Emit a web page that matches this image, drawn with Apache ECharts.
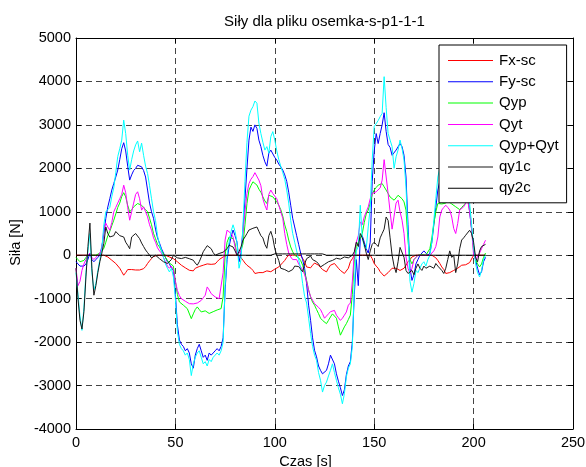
<!DOCTYPE html>
<html><head><meta charset="utf-8">
<script src="https://cdn.jsdelivr.net/npm/echarts@6/dist/echarts.min.js"></script>
<style>html,body{margin:0;padding:0;background:#fff}#c{width:586px;height:467px}</style>
</head><body><div id="c"></div>
<script>
const chartTitle = 'Siły dla pliku osemka-s-p1-1-1';
const xName = 'Czas [s]';
const yName = 'Siła [N]';
const seriesNames = ['Fx-sc', 'Fy-sc', 'Qyp', 'Qyt', 'Qyp+Qyt', 'qy1c', 'qy2c'];
const seriesColors = ['#ff0000', '#0000ff', '#00ff00', '#ff00ff', '#00ffff', '#1a1a1a', '#000000'];
const xTicks = [0, 50, 100, 150, 200, 250];
const yTicks = [-4000, -3000, -2000, -1000, 0, 1000, 2000, 3000, 4000, 5000];
const sampleStep = 1; // seconds between samples, first sample at t = 0

// values in N, one per second (t = 0 ... 206)
const fxSc = [
  0,0,0,0,0,0,0,0,0,0,0,0,0,0,
  0,0,-40,-80,-115,-150,-190,-230,-300,-380,-460,-400,-330,-310,-330,-346,-340,-346,-340,-330,-310,-260,-190,-130,-77,-30,0,0,-10,0,-10,0,
  -20,-40,-60,-80,-115,-150,-190,-230,-260,-290,-320,-346,-385,-360,-300,-270,-260,-240,-230,-220,-200,-190,-210,-230,-200,-150,-100,-77,-40,-20,0,
  0,0,0,0,0,0,0,-115,-180,-230,
  -260,-300,-350,-420,-450,-400,-380,-400,-380,-360,-370,-380,-350,-320,-300,-270,-230,-170,-120,-50,0,0,0,0,0,0,0,-40,-150,-270,
  -300,-290,-230,-180,-190,-230,-280,-330,-370,-384,-300,-230,-190,-190,-230,-300,-350,-380,-420,-380,-300,-150,-80,0,
  0,0,0,0,0,0,0,0,
  -80,-190,-250,-300,-380,-430,-480,-450,-400,-350,-300,-280,-300,-330,-350,-330,-300,-230,-150,-100,
  -40,0,0,0,0,0,0,0,0,0,0,0,-60,-120,-190,-270,-330,-420,-440,-400,-360,-350,-340,-300,-260,-230,-240,-220,-190,-170,-150,0,0,0,0,0,0,0
];
const fySc = [
  -150,-200,-250,-280,-250,-200,-100,50,-100,-150,-100,-50,0,200,
  500,850,1110,1300,1500,1650,1800,1960,2200,2450,2590,2400,2050,1730,1850,1950,2000,2070,2040,2035,1950,1800,1500,1200,1000,850,600,400,280,150,50,-50,
  -150,-200,-300,-350,-900,-1600,-1950,-2050,-2100,-2200,-2150,-2250,-2500,-2600,-2300,-2150,-2050,-2200,-2350,-2300,-2420,-2250,-2300,-2250,-2200,-2150,-2200,-2100,-1900,-800,-100,
  200,420,580,450,300,-150,50,600,1300,2000,
  2650,2950,2850,3000,2920,2650,2500,2300,2150,2050,2350,2420,2380,2250,2190,2100,2035,1960,1850,1700,1450,1150,850,650,450,250,50,-100,-300,-650,
  -1150,-1500,-1900,-2190,-2340,-2550,-2650,-2730,-2750,-2650,-2500,-2300,-2300,-2500,-2730,-2900,-3050,-3230,-3100,-2750,-2550,-2450,-2000,-900,
  -100,-700,400,450,300,150,50,300,
  1700,2400,2800,2570,2800,3000,3280,2850,2550,2480,2300,2345,2420,2460,2570,2500,2300,1800,700,-300,
  -580,-450,-200,-100,0,50,100,50,0,50,300,700,1100,1500,1700,1800,1900,1850,1750,1800,1900,1850,1700,1750,1850,1900,1800,1700,1400,1000,600,200,-100,-300,-450,-380,-150,-50
];
const qyp = [
  -50,-100,-150,-150,-120,-50,0,50,0,-30,0,20,50,100,
  160,300,450,550,680,806,950,1100,1200,1350,1440,1343,1150,1000,1050,1113,1150,1190,1180,1150,1113,1050,1000,850,700,500,380,250,190,100,30,-50,
  -120,-180,-200,-250,-600,-900,-1075,-1110,-1150,-1190,-1230,-1267,-1460,-1350,-1250,-1190,-1250,-1306,-1267,-1280,-1306,-1340,-1382,-1300,-1267,-1260,-1240,-1228,-960,0,300,
  420,420,380,270,0,-30,100,270,700,1190,
  1500,1600,1690,1650,1615,1520,1450,1345,1250,1190,1380,1420,1345,1330,1230,1150,1050,900,700,550,350,190,80,0,-20,-60,-120,-230,-400,-580,
  -800,-960,-1080,-1150,-1250,-1345,-1450,-1500,-1540,-1575,-1500,-1420,-1350,-1306,-1450,-1650,-1840,-1800,-1650,-1575,-1480,-1380,-900,-100,
  200,300,400,500,750,950,1037,1200,
  1400,1500,1560,1613,1640,1650,1575,1500,1420,1340,1300,1267,1320,1380,1344,1300,1228,1037,346,-100,
  -200,-100,-50,0,0,20,0,0,20,150,400,730,1000,1190,1220,1180,1150,1200,1250,1220,1180,1150,1115,1100,1050,1100,1150,1200,1250,1100,600,100,-100,-200,-270,-200,-50,50
];
const qyt = [
  -300,-700,-600,-350,-200,-100,0,50,-50,-100,-50,0,50,150,
  600,737,650,576,750,1000,1100,1200,1300,1400,1612,1440,1100,806,1000,1200,1400,1460,1300,1037,1113,1000,883,700,576,400,300,170,100,50,-50,-150,
  -250,-300,-250,-350,-600,-807,-930,-1000,-1040,-1060,-1080,-1115,-1150,-1120,-1080,-1100,-1060,-1040,-980,-920,-730,-800,-884,-930,-960,-1000,-1000,-980,-400,350,577,
  560,500,420,190,0,-40,100,500,1000,1420,
  1650,1750,1810,1900,1920,1730,1600,1300,1150,1040,1400,1500,1420,1450,1300,1150,1000,850,500,250,50,-40,-100,-115,-100,-200,-270,-330,-450,-600,
  -806,-950,-1037,-1115,-1150,-1200,-1250,-1345,-1450,-1400,-1350,-1300,-1270,-1270,-1380,-1440,-1500,-1450,-1380,-1306,-1150,-1100,-600,50,
  300,450,768,700,883,1000,1113,1300,
  1420,1440,1460,1480,1550,1728,2200,2190,1420,1000,600,900,1200,1267,1000,806,500,-40,-300,-420,
  -300,-100,-50,0,30,0,-30,0,20,0,50,100,200,420,880,1040,1100,1150,1100,1040,880,615,500,730,1040,1080,1115,1150,1270,1000,600,0,-100,-80,50,150,250,345
];
const qypQyt = [
  -400,-900,-1400,-1730,-1200,-400,100,500,-400,-800,-650,-350,-100,150,
  700,1000,1000,1100,1350,1550,1900,2270,2450,2650,3110,2800,2300,1960,2200,2400,2540,2630,2380,2580,2300,2050,1880,1600,1300,1000,800,450,250,100,-50,-200,
  -300,-385,-300,-500,-1000,-1750,-2050,-2150,-2200,-2300,-2250,-2400,-2770,-2500,-2350,-2250,-2200,-2350,-2500,-2450,-2550,-2400,-2450,-2350,-2300,-2250,-2300,-2200,-2000,-700,0,
  300,550,700,550,300,-300,-100,700,1700,2600,
  3200,3340,3420,3550,3500,3040,2800,2600,2420,2500,2350,2730,2845,2650,2400,2200,2050,1900,1750,1500,1200,800,500,300,100,-100,-300,-650,-950,-1100,
  -1450,-1800,-2100,-2300,-2420,-2700,-2880,-3150,-3000,-2920,-2780,-2650,-2500,-2700,-2880,-3050,-3200,-3420,-3190,-2800,-2600,-2500,-2100,-700,
  100,200,1150,400,200,150,650,1100,
  2200,2960,3000,3100,3190,3264,4110,3400,2800,2650,2500,2000,2265,2420,2650,2460,2190,1575,500,-600,
  -850,-650,-350,-400,-300,-200,-150,-250,-100,0,300,800,1300,1800,2000,2100,2200,2150,2050,2100,2200,2150,2000,2050,2150,2200,2100,1900,1600,1200,700,200,-200,-400,-500,-350,-100,0
];
const qy1c = [
  -300,-1000,-1500,-1700,-1300,-500,200,740,-300,-920,-700,-400,-150,50,
  276,652,500,420,390,450,545,500,450,430,420,300,230,150,420,400,500,540,380,280,200,120,60,20,-60,-20,0,-40,-80,-40,-150,-150,
  -190,-190,-100,0,-40,-60,-80,-77,-60,-50,-40,-80,-110,-115,-180,-230,-150,-40,80,150,220,260,150,60,0,20,40,50,70,80,150,
  230,210,190,100,0,80,190,350,420,500,
  580,600,620,640,650,550,450,400,250,160,450,550,400,150,0,-120,-300,-340,-330,-350,-380,-390,-330,-250,-230,-260,-300,-380,-200,-80,
  -50,-20,-100,-120,-150,-200,-270,-240,-210,-190,-150,-115,-120,-90,-70,-77,-90,-60,-40,-50,-60,-30,0,80,
  300,200,500,400,250,50,-100,100,
  250,300,250,200,400,500,600,880,800,400,0,-250,-400,-150,180,150,-50,-350,-420,-380,
  -350,-450,-300,-200,-300,-350,-250,-300,-280,-250,-230,-300,-190,-250,-270,-350,-420,-300,-100,100,-50,0,-400,-200,150,350,400,460,500,575,500,300,-50,-150,100,200,230,250
];
const qy2c = [
  0,0,0,0,0,0,0,0,0,0,0,0,0,0,
  0,0,0,0,0,0,0,0,0,0,0,0,0,0,0,0,0,0,0,0,0,0,0,0,0,0,0,0,0,0,0,0,
  0,0,0,0,0,0,0,0,0,0,0,0,0,0,0,0,0,0,0,0,0,0,0,0,0,0,0,0,0,0,0,
  0,0,0,0,0,0,0,0,0,0,
  0,0,0,0,0,0,0,0,0,0,0,0,0,30,30,30,30,30,30,30,30,30,30,30,30,30,30,30,30,30,
  30,30,30,30,30,30,30,30,30,0,0,0,0,0,0,0,0,0,0,0,0,0,0,0,
  0,0,0,0,0,0,0,0,
  0,0,0,0,0,0,0,0,0,0,0,0,0,0,0,0,0,0,0,0,
  0,0,0,0,0,0,0,0,0,0,0,0,0,0,0,0,0,0,0,0,0,0,0,0,0,0,0,0,0,0,0,0,0,0,0,0,0,0
];

const allValues = [fxSc, fySc, qyp, qyt, qypQyt, qy1c, qy2c];
allValues.forEach((a, i) => { if (a.length !== 207) throw new Error(seriesNames[i] + ' length ' + a.length); });

const FONT = '"Liberation Sans", Arial, Helvetica, sans-serif';
const chart = echarts.init(document.getElementById('c'), null, {renderer: 'canvas'});

const gridL = 76, gridR = 13, gridT = 38, gridB = 38;
const plotCenterX = gridL + (586 - gridL - gridR) / 2;

function axisBase(extra) {
  return Object.assign({
    type: 'value',
    axisLine: {show: true, onZero: false, lineStyle: {color: '#000', width: 1}},
    axisTick: {show: true, inside: true, length: 5, lineStyle: {color: '#000', width: 1}},
    axisLabel: {show: false},
    splitLine: {show: false}
  }, extra);
}

const xMin = xTicks[0], xMax = xTicks[xTicks.length - 1], xInt = xTicks[1] - xTicks[0];
const yMin = yTicks[0], yMax = yTicks[yTicks.length - 1], yInt = yTicks[1] - yTicks[0];

const option = {
  animation: false,
  backgroundColor: '#ffffff',
  textStyle: {fontFamily: FONT},
  title: {
    text: chartTitle,
    left: plotCenterX, top: 14, padding: 0, textAlign: 'center',
    textStyle: {fontFamily: FONT, fontSize: 15, fontWeight: 'normal', color: '#000'}
  },
  grid: {left: gridL, right: gridR, top: gridT, bottom: gridB, containLabel: false, outerBoundsMode: 'none'},
  legend: {
    data: seriesNames.map(n => ({name: n, icon: 'rect'})),
    orient: 'vertical',
    left: 439, top: 45,
    padding: [8, 8, 7, 9],
    itemWidth: 45, itemHeight: 1, itemGap: 6.3,
    backgroundColor: '#ffffff', borderColor: '#000', borderWidth: 1, borderRadius: 0,
    textStyle: {fontFamily: FONT, fontSize: 15, color: '#000', padding: [0, 0, 0, 1]},
    selectedMode: false
  },
  xAxis: [
    axisBase({
      min: xMin, max: xMax, interval: xInt, position: 'bottom',
      name: xName, nameLocation: 'middle', nameGap: 24,
      nameTextStyle: {fontFamily: FONT, fontSize: 14.5, color: '#000', padding: [0, 38, 0, 0]},
      axisLabel: {show: true, fontFamily: FONT, fontSize: 14.5, color: '#000', margin: 6,
        formatter: v => String(v)},
      splitLine: {show: true, lineStyle: {color: '#444', width: 1, type: [6, 4]}}
    }),
    axisBase({min: xMin, max: xMax, interval: xInt, position: 'top'})
  ],
  yAxis: [
    axisBase({
      min: yMin, max: yMax, interval: yInt, position: 'left',
      name: yName, nameLocation: 'middle', nameGap: 44, nameRotate: 90,
      nameTextStyle: {fontFamily: FONT, fontSize: 14.5, color: '#000', padding: [0, 18, 0, 0]},
      axisLabel: {show: true, fontFamily: FONT, fontSize: 14.5, color: '#000', margin: 5,
        formatter: v => String(v)},
      splitLine: {show: true, lineStyle: {color: '#444', width: 1, type: [6, 4]}}
    }),
    axisBase({min: yMin, max: yMax, interval: yInt, position: 'right'})
  ],
  series: seriesNames.map((name, i) => ({
    name: name,
    type: 'line',
    xAxisIndex: 0, yAxisIndex: 0,
    data: allValues[i].map((v, k) => [k * sampleStep, v]),
    symbol: 'none',
    showSymbol: false,
    silent: true,
    clip: true,
    lineStyle: {color: seriesColors[i], width: 1},
    itemStyle: {color: seriesColors[i]},
    emphasis: {disabled: true}
  }))
};
chart.setOption(option);
</script>
</body></html>
